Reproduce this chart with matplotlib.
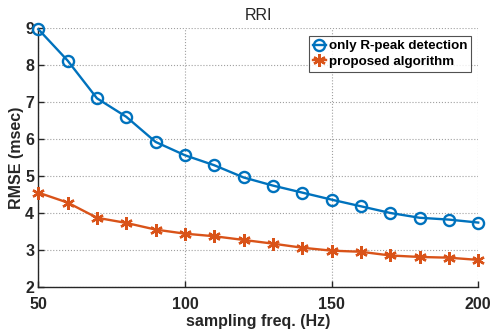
import numpy as np
import matplotlib
matplotlib.use('Agg')
import matplotlib.pyplot as plt

plt.rcParams['font.family'] = ['Liberation Sans', 'DejaVu Sans']

# sampling frequencies and RMSE of the RR intervals
fs = [50, 60, 70, 80, 90, 100, 110, 120, 130, 140, 150, 160, 170, 180, 190, 200]
rmse_rpeak = [8.97, 8.12, 7.10, 6.60, 5.92, 5.56, 5.29, 4.96, 4.74, 4.55,
              4.36, 4.18, 4.00, 3.87, 3.82, 3.74]
rmse_proposed = [4.55, 4.28, 3.87, 3.73, 3.55, 3.44, 3.37, 3.27, 3.17, 3.06,
                 2.98, 2.95, 2.85, 2.81, 2.79, 2.73]

fig = plt.figure(figsize=(4.91, 3.34), dpi=100)
ax = fig.add_axes([0.078, 0.141, 0.896, 0.775])

ax.plot(fs, rmse_rpeak, color='#0072BD', lw=1.7, marker='o', ms=8,
        mfc='none', mew=1.7, label='only R-peak detection', clip_on=False, zorder=3)
ax.plot(fs, rmse_proposed, color='#D95319', lw=1.7, marker=(6, 2, 0), ms=9,
        mew=1.7, label='proposed algorithm', clip_on=False, zorder=3)

ax.set_xlim(50, 200)
ax.set_ylim(2, 9)
ax.set_xticks([50, 100, 150, 200])
ax.set_yticks(range(2, 10))
ax.grid(True, ls=':', color='#a0a0a0', lw=0.8)
for side in ['top', 'right']:
    ax.spines[side].set_visible(False)
for side in ['left', 'bottom']:
    ax.spines[side].set_color('#262626')
    ax.spines[side].set_linewidth(1.0)
ax.tick_params(direction='in', length=4, width=1.0, labelsize=11.5,
               colors='#262626')
ax.tick_params(axis='x', pad=7)
ax.tick_params(axis='y', pad=3)
for lbl in ax.get_xticklabels() + ax.get_yticklabels():
    lbl.set_fontweight('bold')

ax.set_xlabel('sampling freq. (Hz)', fontsize=11.5, fontweight='bold',
              color='#262626', labelpad=2)
ax.set_ylabel('RMSE (msec)', fontsize=11.5, fontweight='bold',
              color='#262626', labelpad=1)
ax.set_title('RRI', fontsize=11.5, color='#262626', pad=6)

leg = ax.legend(loc='upper right', bbox_to_anchor=(0.99, 0.98),
                prop={'weight': 'bold', 'size': 9.6}, frameon=True,
                fancybox=False, handlelength=1.0, handletextpad=0.2,
                borderpad=0.3, labelspacing=0.25, borderaxespad=0.2)
leg.get_frame().set_edgecolor('#262626')
leg.get_frame().set_linewidth(0.8)

fig.savefig('out.png', dpi=100)
